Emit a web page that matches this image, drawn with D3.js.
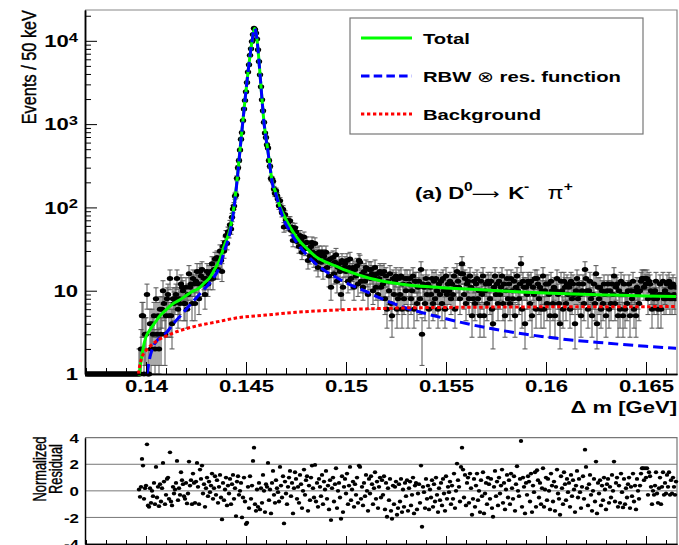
<!DOCTYPE html>
<html>
<head>
<meta charset="utf-8">
<script src="https://cdn.jsdelivr.net/npm/d3@7"></script>
<style>
  body { margin: 0; background: #fff; }
  svg { display: block; font-family: "Liberation Sans", Arial, Helvetica, sans-serif; }
</style>
</head>
<body>
<svg width="679" height="545"></svg>
<script>
// ---- data ----
const binWidth = 0.00005;        // 50 keV bins
const firstBin = 0.13700;        // centre of first bin
const counts = [
  0,0,0,0,0,0,0,0,0,0, 0,0,0,0,0,0,0,0,0,0, 0,0,0,0,0,0,0,0,0,0,
  0,0,0,0,0,0,0,0,0,0, 0,0,0,0,0,0,0,0,0,0, 0,0,0,
  1,1,2,5,5,1,3,3,9,1, 1,4,2,4,3,5,2,8,3,5, 2,6,3,6,10,7,3,5,8,9,
  5,14,5,4,8,7,8,9,14,6, 8,7,12,11,10,7,7,11,6,9, 16,11,12,7,14,12,7,13,17,12,
  8,17,15,18,12,14,9,14,17,12, 16,14,17,21,14,18,24,18,25,18,
  24,30,23,17,34,30,38,46,37,51, 50,62,55,76,96,104,137,141,224,300,
  366,490,660,792,1103,1518,1915,2443,3162,4219,
  5156,6689,8046,9840,11943,14180,13683,12432,10510,7793,
  5645,3912,2811,1960,1444,1050,784,693,567,516,
  366,312,223,219,206,166,147,158,139,125, 105,120,100,86,95,58,82,70,60,66,
  69,69,53,58,40,51,57,51,39,43, 34,46,41,29,36,44,32,38,38,23,
  32,26,34,38,29,24,37,22,28,19, 29,26,22,29,18,26,23,29,19,23,
  15,24,11,21,25,16,22,27,13,19, 21,17,9,23,11,19,21,17,23,13,
  19,24,14,17,19,11,18,15,20,12, 23,22,13,16,11,17,13,19,15,9,
  18,14,18,16,10,15,19,11,16,9, 14,17,11,16,12,17,8,15,6,13,
  10,16,7,5,14,9,13,15,6,8, 14,9,15,6,12,8,14,10,14,6,
  12,14,8,10,15,6,13,13,7,11, 13,8,18,3,12,11,7,14,9,12,
  6,11,9,14,7,13,8,14,10,6, 12,9,13,7,14,10,6,15,9,12,
  10,13,8,12,9,15,6,11,17,13, 11,8,16,21,16,9,14,7,12,13,
  8,15,11,5,8,13,7,12,14,8, 10,5,13,9,15,5,10,12,7,13,
  12,8,13,6,4,11,15,9,12,7, 13,9,11,15,7,12,5,10,14,8,
  12,7,14,10,8,13,5,11,15,10, 8,12,21,6,13,11,4,11,9,13,
  12,7,13,5,11,9,14,6,14,12, 8,11,6,10,15,6,10,12,7,12,
  9,5,13,10,7,11,5,10,14,9, 7,4,13,10,6,13,11,7,12,9,
  11,6,13,8,12,9,4,10,14,8, 12,9,5,10,12,7,18,14,10,6,
  10,13,8,5,9,12,7,16,4,11, 8,11,6,10,7,12,9,5,10,12,
  6,10,7,12,9,15,7,11,12,5, 10,6,13,9,5,12,6,9,7,10,
  12,5,10,8,13,6,10,5,11,9, 7,10,13,14,14,11,14,12,14,8,
  13,12,10,6,9,8,10,13,8,6, 9,12,6,9,13,8,10,8,12,9,
  13,8,11,8,12,9,8,11
];

const residFirstBin = 0.13965;
const residuals = [
  0.1,-0.45,0.3,2.4,1.9,-0.6,0.2,0.4,3.5,-1.1, -1.2,0.2,-0.9,0.0,-0.4,0.6,-1.0,1.8,-0.5,0.3,
  -1.15,0.5,-0.8,0.2,2.1,0.7,-1.0,-0.3,0.9,1.0, -0.6,2.9,-0.8,-1.1,0.3,-0.2,0.1,0.6,2.25,-0.7,
  0.2,-0.3,1.4,0.8,0.5,-0.4,-0.6,0.6,-0.95,-0.2, 2.2,0.4,0.8,-1.0,1.3,0.6,-0.9,0.7,2.1,0.3,
  -1.0,1.6,0.9,1.9,-0.2,0.5,-1.2,0.2,1.0,-0.4, 0.7,-0.1,0.4,1.3,-0.6,0.2,1.1,-0.3,0.8,-0.9,
  0.3,1.2,-0.5,-2.15,0.6,-0.7,0.1,1.0,-1.1,0.4, -0.2,0.9,-1.0,0.5,1.2,-0.6,0.2,-1.9,0.7,1.1,
  -0.3,0.0,0.6,-2.0,-0.5,1.0,-0.8,-2.5,-2.4,0.3, -1.3,1.1,-0.6,0.4,2.25,3.25,-1.0,-1.5,0.1,-1.2,
  0.6,-1.4,0.2,-0.9,1.2,0.0,-1.6,0.5,0.3,2.1, -0.7,0.1,-1.7,0.6,1.5,-0.3,-0.9,0.8,0.2,-0.1,
  -0.8,1.8,0.4,-0.5,1.1,-2.45,0.7,-0.2,-1.0,0.3, 1.0,1.5,-0.4,0.6,-1.7,0.2,1.4,0.9,-0.6,0.3,
  -0.9,1.2,0.5,-1.3,0.0,1.6,-0.3,0.8,1.1,-1.5, 0.4,-0.7,1.0,1.9,0.2,-0.5,1.95,-0.8,0.6,-1.2,
  0.9,0.3,-0.4,1.2,-1.0,0.7,0.1,1.5,-0.6,0.4, -1.4,0.8,-2.2,0.2,1.0,-0.8,0.5,1.7,-1.3,0.0,
  0.6,-0.5,-2.1,1.1,-1.6,0.3,0.9,-0.2,1.3,-1.0, 0.4,1.8,-0.7,0.1,0.7,-1.2,0.5,-0.3,1.0,-0.9,
  1.9,1.8,-0.6,0.3,-1.1,0.6,-0.4,1.2,0.0,-1.5, 0.9,-0.2,1.1,0.5,-1.0,0.2,1.4,-0.6,0.7,-1.3,
  0.3,1.0,-0.5,0.8,-0.3,1.1,-1.4,0.6,-1.95,0.2, -0.7,0.9,-1.5,-2.1,0.4,-1.0,0.3,0.7,-1.8,-1.3,
  0.5,-0.8,0.9,-1.6,0.1,-1.2,0.6,-0.4,0.8,-1.5, 0.2,0.7,-1.1,-0.3,1.0,-1.7,0.4,0.6,-1.4,-0.2,
  0.5,-0.9,1.9,-2.7,0.3,-0.1,-1.3,0.9,-0.6,0.4, -1.4,0.1,-0.5,0.8,-1.2,0.5,-0.8,1.0,-0.3,-1.6,
  0.2,-0.7,0.6,-1.1,0.9,-0.2,-1.5,1.1,-0.6,0.3, -0.1,0.7,-1.0,0.4,-0.6,1.3,-1.3,0.0,2.05,0.8,
  0.3,-0.8,1.8,3.25,1.6,-0.5,1.2,-1.1,0.6,1.0, -0.9,1.3,0.2,-1.8,-0.6,0.9,-1.2,0.4,1.3,-0.7,
  0.0,-1.6,0.8,-0.4,1.4,-1.7,-0.2,0.6,-1.0,1.0, 0.5,-0.6,0.9,-1.3,-1.95,0.3,1.5,-0.4,0.7,-1.1,
  1.0,-0.2,0.4,1.6,-0.9,0.6,-1.4,0.1,1.2,-0.5, 0.8,-1.0,1.3,0.2,-0.6,1.1,-1.5,0.5,1.85,0.0,
  -0.4,0.9,3.75,-1.2,1.0,0.3,-1.7,0.6,-0.3,1.1, 0.7,-0.8,1.3,-1.6,0.4,-0.1,1.4,-1.2,1.55,0.8,
  -0.5,0.6,-1.0,0.2,1.7,-1.2,0.1,1.0,-0.7,0.9, 0.0,-1.4,1.3,0.4,-0.8,0.7,-1.5,0.3,1.6,-0.2,
  -0.6,-1.8,1.1,0.2,-1.0,1.4,0.5,-0.7,0.9,-0.1, 0.6,-1.2,1.2,-0.4,0.8,0.1,-1.6,0.4,1.5,-0.5,
  0.9,-0.1,-1.3,0.3,1.1,-0.6,3.1,1.8,0.2,-1.1, 0.5,1.2,-0.3,-1.5,0.0,0.9,-0.8,2.2,-1.7,0.6,
  -0.2,0.8,-1.1,0.4,-0.7,1.0,0.1,-1.4,0.5,0.9, -0.9,0.3,-0.5,1.2,0.0,2.2,-0.8,0.6,1.0,-1.2,
  0.4,-0.9,1.3,-0.1,-1.25,0.9,-1.0,0.2,-0.5,0.5, 1.0,-1.3,0.3,-0.4,1.3,-0.8,0.4,-1.4,0.9,0.0,
  -0.6,0.4,1.3,1.7,1.7,0.8,1.7,1.0,1.7,-0.3, 1.4,1.1,0.3,-1.0,0.0,-0.3,0.4,1.4,-0.2,-0.9,
  0.2,1.0,-1.0,0.3,1.4,-0.3,0.6,-0.2,1.2,0.3, 1.4,-0.3,0.8,-0.2,1.0,0.3,-0.3,0.7
];

// fit curves: [delta m (GeV), events / 50 keV]
const totalCurve = [
  [0.13966,0.95],[0.13970,1.15],[0.13975,1.4],[0.13980,1.7],[0.13985,2.0],[0.13990,2.3],
  [0.13995,2.55],[0.14000,2.8],[0.14020,3.4],[0.14050,4.3],[0.14070,5.0],[0.14100,5.9],
  [0.14140,7.1],[0.14170,7.8],[0.14220,9.4],[0.14270,11],[0.14290,12.3],[0.14320,14.5],
  [0.14340,17.5],[0.14370,24],[0.14390,34],[0.14420,55],[0.14435,85],[0.14450,162],
  [0.14470,490],[0.14490,1480],[0.14510,4200],[0.14520,6600],[0.14530,9800],[0.14542,14100],
  [0.14550,12600],[0.14560,7900],[0.14570,4000],[0.14580,2000],[0.14590,1050],[0.14600,680],
  [0.14610,470],[0.14620,310],[0.14630,210],[0.14650,148],[0.14670,102],[0.14690,80],
  [0.14720,58],[0.14750,45],[0.14770,39],[0.14800,33],[0.14850,25.5],[0.14900,22],
  [0.14950,19.7],[0.15000,17.5],[0.15100,14.5],[0.15200,12.8],[0.15300,11.8],[0.15400,11.2],
  [0.15500,10.8],[0.15700,10.2],[0.15900,9.6],[0.16100,9.2],[0.16300,8.9],[0.16500,8.65],
  [0.16650,8.5]
];
const signalCurve = [
  [0.14005,1.0],[0.14020,1.6],[0.14035,2.1],[0.14060,2.6],[0.14100,3.1],[0.14140,4.1],
  [0.14185,5.4],[0.14230,7.2],[0.14270,9.2],[0.14300,11],[0.14335,14],[0.14370,20],
  [0.14390,29],[0.14420,50],[0.14435,80],[0.14450,157],[0.14470,485],[0.14490,1475],
  [0.14510,4195],[0.14520,6595],[0.14530,9795],[0.14542,14095],[0.14550,12595],[0.14560,7895],
  [0.14570,3995],[0.14580,1995],[0.14590,1045],[0.14600,675],[0.14610,465],[0.14620,305],
  [0.14630,205],[0.14650,143],[0.14670,97],[0.14690,70],[0.14720,52],[0.14750,39],
  [0.14770,33.5],[0.14800,27.5],[0.14850,21],[0.14900,17],[0.14950,14.5],[0.15000,12.5],
  [0.15100,9.8],[0.15200,7.6],[0.15300,6.2],[0.15400,5.3],[0.15500,4.6],[0.15700,3.6],
  [0.15900,3.0],[0.16100,2.6],[0.16300,2.35],[0.16500,2.15],[0.16650,2.03]
];
const bkgCurve = [
  [0.13962,1.0],[0.13970,1.3],[0.13980,1.6],[0.13995,1.85],[0.14020,2.15],[0.14060,2.55],
  [0.14100,2.85],[0.14150,3.2],[0.14200,3.5],[0.14280,3.9],[0.14350,4.2],[0.14450,4.7],
  [0.14600,5.1],[0.14750,5.5],[0.14940,5.85],[0.15100,6.05],[0.15270,6.2],[0.15500,6.3],
  [0.15700,6.35],[0.16000,6.4],[0.16300,6.42],[0.16650,6.45]
];

const xTicks = [0.14, 0.145, 0.15, 0.155, 0.16, 0.165];
const xTickLabels = ["0.14", "0.145", "0.15", "0.155", "0.16", "0.165"];
const yTicks = [1, 10, 100, 1000, 10000];
const residTicks = [4, 2, 0, -2, -4];
const legendLabels = [["Total"], ["RBW ", "\u2297", " res. function"], ["Background"]];

// ---- layout ----
let width = 679, height = 545,
  mLeft = 85, mRight = 677, mTop = 10, mBottom = 374,
  rTop = 437.7, rBottom = 544,
  sx = 1.38;   // the picture is stretched sideways

let svg = d3.select("svg");

let xScale = d3.scaleLinear().domain([0.13695, 0.16655]).range([mLeft, mRight]);
let yScale = d3.scaleLog().domain([1, 23440]).range([mBottom, mTop]);
let rScale = d3.scaleLinear().domain([-4, 4]).range([rBottom, rTop]);

svg.append("clipPath").attr("id", "mainclip")
  .append("rect").attr("x", mLeft).attr("y", mTop).attr("width", mRight - mLeft).attr("height", mBottom - mTop + 5);

// ---- data: error bars and markers ----
let bins = counts.map((n, i) => ({ x: firstBin + i * binWidth, n: n }));
let dataG = svg.append("g").attr("clip-path", "url(#mainclip)");

let withErr = bins.filter(d => d.n > 0);
dataG.append("g")
  .attr("stroke", "#555")
  .attr("stroke-width", 1)
  .selectAll("path")
  .data(withErr)
  .enter()
  .append("path")
  .attr("d", d => {
    let cx = xScale(d.x),
      e = Math.sqrt(d.n),
      y1 = yScale(d.n + e),
      y0 = yScale(Math.max(d.n - e, 1));
    return `M${cx},${y0}V${y1}M${cx - 2.5},${y1}H${cx + 2.5}M${cx - 2.5},${y0}H${cx + 2.5}`;
  });

dataG.append("g")
  .selectAll("ellipse")
  .data(bins)
  .enter()
  .append("ellipse")
  .attr("cx", d => xScale(d.x))
  .attr("cy", d => yScale(Math.max(d.n, 1)))
  .attr("rx", 3.2)
  .attr("ry", 2.5)
  .style("fill", "#000");

// ---- fit curves ----
let line = d3.line()
  .x(d => xScale(d[0]))
  .y(d => yScale(d[1]))
  .curve(d3.curveMonotoneX);

let curveG = svg.append("g").attr("clip-path", "url(#mainclip)").attr("fill", "none");
curveG.append("path").attr("d", line(totalCurve))
  .attr("stroke", "#00ff00").attr("stroke-width", 3);
curveG.append("path").attr("d", line(signalCurve))
  .attr("stroke", "#0000ff").attr("stroke-width", 3).attr("stroke-dasharray", "10,5");
curveG.append("path").attr("d", line(bkgCurve))
  .attr("stroke", "#ff0000").attr("stroke-width", 3).attr("stroke-dasharray", "3.5,2.5");

// ---- frame ----
svg.append("path")
  .attr("d", `M${mLeft},${mTop}H${mRight}V${mBottom}`)
  .attr("fill", "none").attr("stroke", "#888").attr("stroke-width", 1.2);

// x axis, ticks pointing inwards
let xMinor = xScale.ticks(30).filter(t => !xTicks.some(m => Math.abs(m - t) < 1e-7));
svg.append("g")
  .attr("transform", `translate(0,${mBottom})`)
  .call(d3.axisBottom(xScale).tickValues(xMinor).tickSize(-6).tickSizeOuter(0).tickFormat(""));
let xAxisG = svg.append("g")
  .attr("transform", `translate(0,${mBottom})`)
  .call(d3.axisBottom(xScale).tickValues(xTicks).tickSize(-12).tickSizeOuter(0)
    .tickFormat((d, i) => xTickLabels[i]));
xAxisG.selectAll("text")
  .attr("y", 18).attr("dy", 0)
  .attr("transform", `scale(${sx},1)`)
  .style("font-size", "16px").style("font-weight", "bold").attr("fill", "#000");

// y axis (log)
let yMinor = yScale.ticks().filter(t => !yTicks.includes(t));
svg.append("g")
  .attr("transform", `translate(${mLeft},0)`)
  .call(d3.axisLeft(yScale).tickValues(yMinor).tickSize(-6).tickSizeOuter(0).tickFormat(""));
let yAxisG = svg.append("g")
  .attr("transform", `translate(${mLeft},0)`)
  .call(d3.axisLeft(yScale).tickValues(yTicks).tickSize(-12).tickSizeOuter(0).tickFormat(""));
yAxisG.selectAll(".tick").each(function (d) {
  let t = d3.select(this).select("text")
    .attr("x", -7 / sx).attr("dy", "0.36em")
    .attr("transform", `scale(${sx},1)`)
    .style("font-size", "16px").style("font-weight", "bold").attr("fill", "#000")
    .attr("text-anchor", "end");
  let ex = Math.round(Math.log10(d));
  if (ex <= 1) {
    t.text(d);
  } else {
    t.append("tspan").text("10");
    t.append("tspan").attr("dy", "-0.45em").style("font-size", "12px").text(ex);
  }
});
svg.selectAll(".domain").attr("stroke", "#000").attr("stroke-width", 1.5);
svg.selectAll(".tick line").attr("stroke", "#000");

// axis titles
svg.append("text")
  .attr("transform", `translate(${mRight},413) scale(${sx},1)`)
  .attr("text-anchor", "end")
  .style("font-size", "16px").style("font-weight", "bold")
  .text("\u0394 m [GeV]");

svg.append("text")
  .attr("transform", `translate(36,${mTop}) rotate(-90) scale(1.02,1.22)`)
  .attr("text-anchor", "end")
  .style("font-size", "16px")
  .style("stroke", "#000").style("stroke-width", 0.35)
  .text("Events / 50 keV");

// ---- legend ----
let legend = svg.append("g");
legend.append("rect")
  .attr("x", 350).attr("y", 18).attr("width", 293).attr("height", 116)
  .attr("fill", "#fff").attr("stroke", "#777").attr("stroke-width", 1.2);
let legendStyles = [
  { c: "#00ff00", dash: null },
  { c: "#0000ff", dash: "8.5,4.2" },
  { c: "#ff0000", dash: "3.3,2.7" }
];
legendLabels.forEach((parts, i) => {
  let cy = 38 + i * 38;
  legend.append("line")
    .attr("x1", 361).attr("x2", 412).attr("y1", cy).attr("y2", cy)
    .attr("stroke", legendStyles[i].c).attr("stroke-width", 3)
    .attr("stroke-dasharray", legendStyles[i].dash);
  let t = legend.append("text")
    .attr("transform", `translate(423,${cy + 5.5}) scale(1.35,1)`)
    .style("font-size", "15px").style("font-weight", "bold");
  parts.forEach(p => {
    t.append("tspan")
      .style("font-weight", p === "\u2297" ? "normal" : "bold")
      .text(p);
  });
});

// ---- decay label ----
let ann = svg.append("text")
  .attr("transform", `translate(415,199) scale(1.3,1)`)
  .style("font-size", "17px").style("font-weight", "bold");
ann.append("tspan").text("(a) D");
ann.append("tspan").attr("dy", -8).style("font-size", "12px").text("0");
ann.append("tspan").attr("dy", 8).attr("dx", -1)
  .style("font-family", "'DejaVu Sans', sans-serif")
  .style("font-weight", "normal").style("font-size", "15px").text("\u27F6");
ann.append("tspan").attr("dx", 2).text(" K");
ann.append("tspan").attr("dy", -8).style("font-size", "12px").text("-");
ann.append("tspan").attr("dy", 8).attr("dx", 14).style("font-weight", "normal").style("font-size", "18px").text("\u03C0");
ann.append("tspan").attr("dy", -8).style("font-size", "12px").text("+");

// ---- residual panel ----
let resG = svg.append("g");
resG.append("g")
  .selectAll("line")
  .data(residTicks.slice(1, 4))
  .enter()
  .append("line")
  .attr("x1", mLeft).attr("x2", mRight)
  .attr("y1", d => rScale(d)).attr("y2", d => rScale(d))
  .attr("stroke", "#777").attr("stroke-width", 1);
resG.append("path")
  .attr("d", `M${mLeft},${rTop}H${mRight}V${rBottom}`)
  .attr("fill", "none").attr("stroke", "#777").attr("stroke-width", 1.2);

resG.append("g")
  .attr("transform", `translate(0,${rBottom})`)
  .call(d3.axisBottom(xScale).tickValues(xMinor).tickSize(-4).tickSizeOuter(0).tickFormat(""));
resG.append("g")
  .attr("transform", `translate(0,${rBottom})`)
  .call(d3.axisBottom(xScale).tickValues(xTicks).tickSize(-8).tickSizeOuter(0).tickFormat(""));

let rAxisG = resG.append("g")
  .attr("transform", `translate(${mLeft},0)`)
  .call(d3.axisLeft(rScale).tickValues(residTicks).tickSize(0).tickSizeOuter(0)
    .tickFormat(d => String(d)));
rAxisG.selectAll("text")
  .attr("x", -6 / 1.3).attr("dy", "0.36em")
  .attr("transform", "scale(1.3,1)")
  .style("font-size", "13px").style("font-weight", "bold").attr("fill", "#000");
resG.selectAll(".domain").attr("stroke", "#000").attr("stroke-width", 1.5);
resG.selectAll(".tick line").attr("stroke", "#000");

resG.append("g")
  .selectAll("ellipse")
  .data(residuals)
  .enter()
  .append("ellipse")
  .attr("cx", (d, i) => xScale(residFirstBin + i * binWidth))
  .attr("cy", d => rScale(d))
  .attr("rx", 2.2)
  .attr("ry", 1.9)
  .style("fill", "#000");

svg.append("text")
  .attr("transform", "translate(46,469) rotate(-90) scale(0.95,1.4)")
  .attr("text-anchor", "middle")
  .style("font-size", "13.5px")
  .style("stroke", "#000").style("stroke-width", 0.3)
  .text("Normalized");
svg.append("text")
  .attr("transform", "translate(62,469) rotate(-90) scale(0.95,1.4)")
  .attr("text-anchor", "middle")
  .style("font-size", "13.5px")
  .style("stroke", "#000").style("stroke-width", 0.3)
  .text("Residual");
</script>
</body>
</html>
